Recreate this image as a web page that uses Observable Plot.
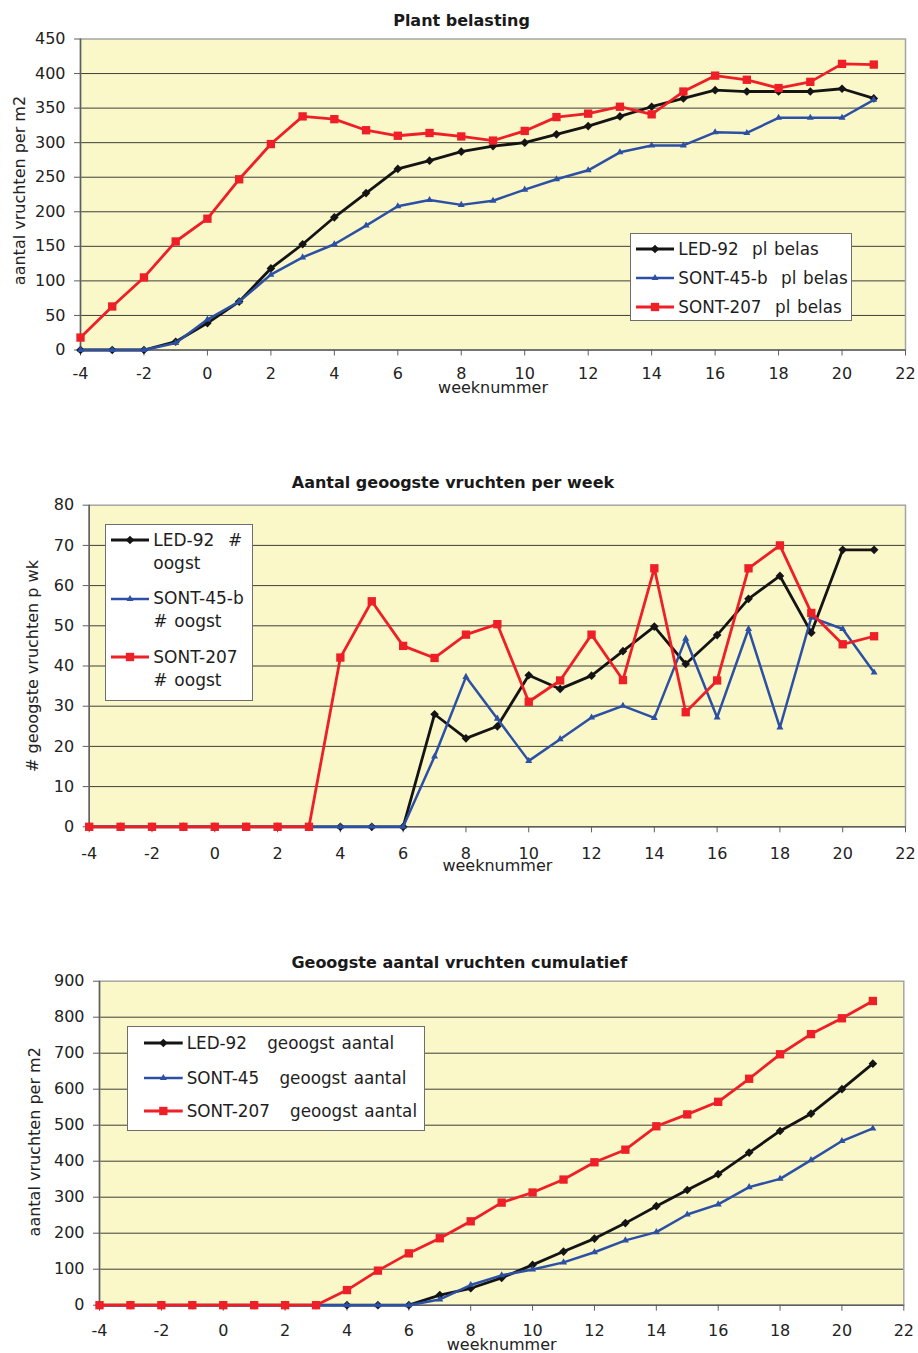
<!DOCTYPE html>
<html>
<head>
<meta charset="utf-8">
<script src="https://cdn.jsdelivr.net/npm/d3@7"></script>
<script src="https://cdn.jsdelivr.net/npm/@observablehq/plot@0.6"></script>
<style>
  body { margin: 0; background: #fff; }
  #page { position: relative; width: 918px; height: 1353px; font-family: "DejaVu Sans", sans-serif; color: #222; overflow: hidden; }
  #page svg.chart { position: absolute; left: 0; }
  .legend { position: absolute; background: #fff; border: 1px solid #6e6e6e; box-sizing: border-box; }
  .lg-text { position: absolute; white-space: pre; color: #1e1e1e; word-spacing: 1.4px; }
  .lg-swatch { position: absolute; overflow: visible; }
</style>
</head>
<body>
<div id="page"></div>
<script>
// Week numbers (x axis) shared by all three panels
const weeks = [-4, -3, -2, -1, 0, 1, 2, 3, 4, 5, 6, 7, 8, 9, 10, 11, 12, 13, 14, 15, 16, 17, 18, 19, 20, 21];
const xTicks = [-4, -2, 0, 2, 4, 6, 8, 10, 12, 14, 16, 18, 20, 22];

// Panel 1: plant belasting (fruits on the plant per m2)
const led92Belast   = [0, 0, 0, 12, 39, 70, 118, 153, 192, 227, 262, 274, 287, 295, 300, 312, 324, 338, 352, 364, 376, 374, 374, 374, 378, 364];
const sont45Belast  = [0, 0, 0, 10, 44, 70, 109, 134, 153, 180, 208, 217, 210, 216, 232, 247, 260, 286, 296, 296, 315, 314, 336, 336, 336, 362];
const sont207Belast = [18, 63, 105, 157, 190, 247, 298, 338, 334, 318, 310, 314, 309, 303, 317, 337, 342, 352, 341, 374, 397, 391, 379, 388, 414, 413];
const yTicks1 = [0, 50, 100, 150, 200, 250, 300, 350, 400, 450];

// Panel 2: harvested fruits per week
const led92Oogst   = [0, 0, 0, 0, 0, 0, 0, 0, 0, 0, 0, 28, 22, 25, 37.7, 34.3, 37.6, 43.7, 49.8, 40.5, 47.7, 56.7, 62.4, 48.3, 68.9, 68.9];
const sont45Oogst  = [0, 0, 0, 0, 0, 0, 0, 0, 0, 0, 0, 17.5, 37.3, 26.9, 16.4, 21.8, 27.2, 30.1, 27.1, 46.8, 27.2, 49.2, 24.7, 52.1, 49.2, 38.4];
const sont207Oogst = [0, 0, 0, 0, 0, 0, 0, 0, 42.1, 56.1, 45, 42, 47.8, 50.4, 31.1, 36.4, 47.8, 36.5, 64.3, 28.5, 36.4, 64.3, 70, 53.2, 45.4, 47.4];
const yTicks2 = [0, 10, 20, 30, 40, 50, 60, 70, 80];

// Panel 3: cumulative harvested fruits per m2
const led92Cum   = [0, 0, 0, 0, 0, 0, 0, 0, 0, 0, 0, 28, 47, 76, 112, 149, 185, 228, 275, 320, 364, 424, 484, 532, 600, 671];
const sont45Cum  = [0, 0, 0, 0, 0, 0, 0, 0, 0, 0, 0, 16, 56, 83, 99, 119, 147, 180, 203, 252, 280, 328, 351, 403, 456, 491];
const sont207Cum = [0, 0, 0, 0, 0, 0, 0, 0, 42, 96, 144, 186, 233, 285, 313, 349, 397, 432, 497, 530, 565, 629, 697, 753, 797, 845];
const yTicks3 = [0, 100, 200, 300, 400, 500, 600, 700, 800, 900];

// Texts
const titles = ["Plant belasting", "Aantal geoogste vruchten per week", "Geoogste aantal vruchten cumulatief"];
const yLabels = ["aantal vruchten per m2", "# geoogste vruchten p wk", "aantal vruchten per m2"];
const xLabel = "weeknummer";
const legend1 = ["LED-92  pl belas", "SONT-45-b  pl belas", "SONT-207  pl belas"];
const legend2 = ["LED-92  #\noogst", "SONT-45-b\n# oogst", "SONT-207\n# oogst"];
const legend3 = ["LED-92   geoogst aantal", "SONT-45   geoogst aantal", "SONT-207   geoogst aantal"];

// Styling
const BG = "#faf7c9", GRID = "#3f3f3a", AXIS = "#5e5e5e", TXT = "#222";
const styles = [
  {color: "#141414", symbol: "diamond2", d3symbol: d3.symbolDiamond2, r: 3.9, width: 2.8},
  {color: "#2c50a3", symbol: "triangle", d3symbol: d3.symbolTriangle, r: 2.6, width: 2.5},
  {color: "#ee1f26", symbol: "square",   d3symbol: d3.symbolSquare,   r: 4.7, width: 2.8}
];

const page = document.getElementById("page");

function chart(c) {
  const marks = [
    Plot.frame({fill: BG}),
    Plot.ruleY(c.yTicks.slice(1, -1), {stroke: GRID, strokeWidth: 1}),
    Plot.frame({stroke: "#a5a5a5", strokeWidth: 1.5}),
    Plot.ruleX([-4], {stroke: AXIS, strokeWidth: 1.5}),
    Plot.ruleY([0], {stroke: AXIS, strokeWidth: 1.5}),
    Plot.axisX({ticks: xTicks, tickSize: 6, tickPadding: c.xPad, tickFormat: d => String(d), label: null, stroke: AXIS, fill: TXT}),
    Plot.axisY({ticks: c.yTicks, tickSize: 6, tickPadding: 9, tickFormat: d => String(d), label: null, stroke: AXIS, fill: TXT})
  ];
  c.series.forEach((vals, k) => {
    const s = styles[k];
    marks.push(Plot.line(vals, {x: (d, i) => weeks[i], y: d => d, stroke: s.color, strokeWidth: s.width, strokeLinejoin: "round"}));
    marks.push(Plot.dot(vals, {x: (d, i) => weeks[i], y: d => d, symbol: s.symbol, r: s.r, fill: s.color, stroke: "none"}));
  });
  marks.push(
    Plot.text([c.title], {frameAnchor: "top", textAnchor: "middle", lineAnchor: "bottom", dx: c.titleDx, dy: c.titleDy, fontWeight: "bold", fontSize: 16, fill: "#1a1a1a"}),
    Plot.text([xLabel], {frameAnchor: "bottom", textAnchor: "middle", lineAnchor: "bottom", dy: c.xLabelDy, fontSize: 16, fill: TXT}),
    Plot.text([c.yLabel], {frameAnchor: "left", textAnchor: "middle", lineAnchor: "bottom", rotate: -90, dx: c.yLabelDx, dy: c.yLabelDy, fontSize: 16, fill: TXT})
  );
  const svg = Plot.plot({
    width: 918,
    height: c.height,
    marginTop: c.mt, marginBottom: c.mb, marginLeft: c.ml, marginRight: c.mr,
    style: {fontFamily: "'DejaVu Sans', sans-serif", fontSize: "16px", color: TXT, background: "transparent", overflow: "visible"},
    x: {domain: [-4, 22]},
    y: {domain: [0, c.yTicks[c.yTicks.length - 1]]},
    marks
  });
  svg.classList.add("chart");
  svg.style.top = c.top + "px";
  page.appendChild(svg);
}

function legend(L) {
  const box = document.createElement("div");
  box.className = "legend";
  Object.assign(box.style, {left: L.left + "px", top: L.top + "px", width: L.width + "px", height: L.height + "px"});
  page.appendChild(box);
  L.labels.forEach((label, k) => {
    const s = styles[k];
    const y = L.rows[k];
    const w = L.x1 - L.x0;
    const sw = d3.create("svg").attr("class", "lg-swatch").attr("width", w).attr("height", 14)
      .style("left", L.x0 + "px").style("top", (y - 7) + "px");
    sw.append("line").attr("x1", 0).attr("x2", w).attr("y1", 7).attr("y2", 7)
      .attr("stroke", s.color).attr("stroke-width", s.width);
    sw.append("path").attr("transform", `translate(${w / 2},7)`)
      .attr("d", d3.symbol(s.d3symbol, Math.PI * s.r * s.r)()).attr("fill", s.color);
    page.appendChild(sw.node());
    const t = document.createElement("div");
    t.className = "lg-text";
    t.textContent = label;
    Object.assign(t.style, {left: L.textX + "px", top: (y - L.lineHeight / 2) + "px", fontSize: L.fontSize + "px", lineHeight: L.lineHeight + "px"});
    page.appendChild(t);
  });
}

chart({
  top: 0, height: 440, mt: 38.5, mb: 90.5, ml: 80, mr: 13,
  yTicks: yTicks1, series: [led92Belast, sont45Belast, sont207Belast],
  title: titles[0], titleDx: -31.5, titleDy: -13.5,
  xPad: 11.5, xLabelDy: 42.5,
  yLabel: yLabels[0], yLabelDx: -55.5, yLabelDy: -4
});
chart({
  top: 440, height: 475, mt: 64.7, mb: 88.7, ml: 88.7, mr: 13,
  yTicks: yTicks2, series: [led92Oogst, sont45Oogst, sont207Oogst],
  title: titles[1], titleDx: -44.4, titleDy: -17.4,
  xPad: 14.5, xLabelDy: 43.7,
  yLabel: yLabels[1], yLabelDx: -51.2, yLabelDy: 0
});
chart({
  top: 915, height: 438, mt: 65.7, mb: 48.3, ml: 99, mr: 14.7,
  yTicks: yTicks3, series: [led92Cum, sont45Cum, sont207Cum],
  title: titles[2], titleDx: -42.4, titleDy: -13.4,
  xPad: 13.5, xLabelDy: 44.5,
  yLabel: yLabels[2], yLabelDx: -60, yLabelDy: -1.4
});

legend({left: 630, top: 233.3, width: 222, height: 87.5, x0: 636, x1: 674, textX: 678.3,
        rows: [249, 277.7, 306.7], labels: legend1, fontSize: 16.8, lineHeight: 20});
legend({left: 105, top: 524, width: 148, height: 176.5, x0: 111, x1: 149, textX: 153.3,
        rows: [540, 598.5, 657], labels: legend2, fontSize: 17, lineHeight: 23});
legend({left: 127.3, top: 1026.3, width: 298, height: 104.5, x0: 144, x1: 182.7, textX: 186.7,
        rows: [1042.5, 1078, 1110.5], labels: legend3, fontSize: 16.8, lineHeight: 20});
</script>
</body>
</html>
